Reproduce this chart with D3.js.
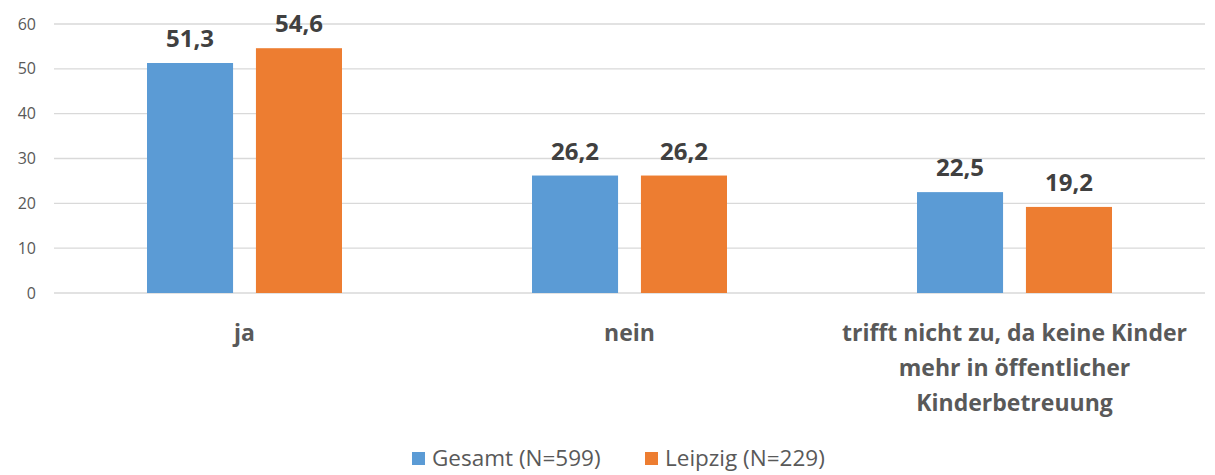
<!DOCTYPE html>
<html>
<head>
<meta charset="utf-8">
<script src="https://cdn.jsdelivr.net/npm/d3@7"></script>
<style>
  body { margin: 0; background: #fff; }
  svg { display: block; }
</style>
</head>
<body>
<div id="chart"></div>
<script>
// Chart data
var categories = [
  ["ja"],
  ["nein"],
  ["trifft nicht zu, da keine Kinder", "mehr in öffentlicher", "Kinderbetreuung"]
];
var seriesNames = ["Gesamt (N=599)", "Leipzig (N=229)"];
var gesamt = [51.3, 26.2, 22.5];
var leipzig = [54.6, 26.2, 19.2];
var yTicks = [0, 10, 20, 30, 40, 50, 60];
var colors = ["#5b9bd5", "#ed7d31"];

var svgWidth = 1215;
var svgHeight = 475;

var margin = { top: 24, right: 8, bottom: 182, left: 52 };
var width = svgWidth - margin.left - margin.right;
var height = svgHeight - margin.top - margin.bottom;

var svg = d3.select("#chart")
  .append("svg")
  .attr("width", svgWidth)
  .attr("height", svgHeight);

var chartGroup = svg.append("g")
  .attr("transform", `translate(${margin.left}, ${margin.top})`);

var fontFamily = "Open Sans, Liberation Sans, sans-serif";

// Scales
var xScale = d3.scaleBand()
  .domain(d3.range(categories.length))
  .range([0, width]);

var xInner = d3.scaleBand()
  .domain(d3.range(seriesNames.length))
  .range([0, 195])
  .paddingInner(0.21);

var yScale = d3.scaleLinear()
  .domain([0, 60])
  .range([height, 0]);

// Gridlines
chartGroup.selectAll(".grid")
  .data(yTicks)
  .enter()
  .append("line")
  .attr("x1", 2)
  .attr("x2", width - 2)
  .attr("y1", d => yScale(d))
  .attr("y2", d => yScale(d))
  .attr("stroke", "#d9d9d9")
  .attr("stroke-width", 1.3);

// Y axis labels
var yAxis = d3.axisLeft(yScale).tickValues(yTicks).tickSize(0).tickPadding(16);
var yAxisG = chartGroup.append("g").call(yAxis);
yAxisG.select(".domain").remove();
yAxisG.selectAll("text")
  .attr("fill", "#595959")
  .style("font-family", fontFamily)
  .style("font-size", "16px")
  .attr("text-anchor", "end");

// Bars
var values = [gesamt, leipzig];
var groups = chartGroup.selectAll(".cat")
  .data(categories)
  .enter()
  .append("g")
  .attr("transform", (d, i) => `translate(${xScale(i) + xScale.bandwidth() / 2 - 97.5}, 0)`);

groups.each(function(d, i) {
  var g = d3.select(this);
  values.forEach(function(series, s) {
    var v = series[i];
    g.append("rect")
      .attr("x", xInner(s))
      .attr("y", yScale(v))
      .attr("width", xInner.bandwidth())
      .attr("height", yScale(0) - yScale(v))
      .attr("fill", colors[s]);
    g.append("text")
      .attr("x", xInner(s) + xInner.bandwidth() / 2)
      .attr("y", yScale(v) - 16)
      .attr("text-anchor", "middle")
      .attr("fill", "#404040")
      .style("font-family", fontFamily)
      .style("font-weight", "bold")
      .style("font-size", "24px")
      .text(d3.format(".1f")(v).replace(".", ","));
  });
});

// Category labels
chartGroup.selectAll(".catLabel")
  .data(categories)
  .enter()
  .append("text")
  .attr("x", (d, i) => xScale(i) + xScale.bandwidth() / 2)
  .attr("y", height + 48)
  .attr("text-anchor", "middle")
  .attr("fill", "#595959")
  .style("font-family", fontFamily)
  .style("font-weight", "bold")
  .style("font-size", "23px")
  .selectAll("tspan")
  .data(d => d)
  .enter()
  .append("tspan")
  .attr("x", function() { return d3.select(this.parentNode).attr("x"); })
  .attr("dy", (d, i) => i === 0 ? 0 : 35)
  .text(d => d);

// Legend
var legendX = [412, 645];
var legend = svg.selectAll(".legend")
  .data(seriesNames)
  .enter()
  .append("g")
  .attr("transform", (d, i) => `translate(${legendX[i]}, 452)`);

legend.append("rect")
  .attr("width", 13)
  .attr("height", 13)
  .attr("fill", (d, i) => colors[i]);

legend.append("text")
  .attr("x", 20)
  .attr("y", 14)
  .attr("fill", "#595959")
  .style("font-family", fontFamily)
  .style("font-size", "22.5px")
  .text(d => d);
</script>
</body>
</html>
